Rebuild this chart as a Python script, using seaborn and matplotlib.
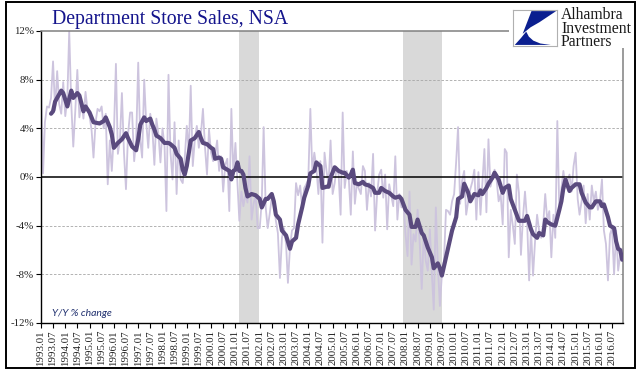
import matplotlib
matplotlib.use("Agg")
import matplotlib.pyplot as plt
from matplotlib.patches import Rectangle, Polygon
import seaborn as sns
import pandas as pd

# ---------------- data ----------------
start_month = "1993-01-01"
light_1993_2016 = [
    8.2, 0.3, 4.5, 5.8, 5.7, 6.5, 9.5, 5.5, 8.7, 6.0, 5.2, 7.8,          # 1993
    5.0, 6.5, 12.0, 6.0, 2.5, 5.5, 8.8, 4.9, 6.2, 4.8, 7.0, 5.5,         # 1994
    5.0, 3.8, 1.6, 4.5, 5.6, 5.4, 5.8, 4.0, 5.2, -0.6, 3.0, 0.5,         # 1995
    3.5, 9.3, 1.9, 3.0, 6.9, 2.0, -1.0, 3.5, 5.3, 5.3, 1.3, 3.0,         # 1996
    9.4, 3.0, 1.6, 8.0, 4.5, 2.4, 5.2, 4.0, 1.0, 4.8, 3.5, 1.2,          # 1997
    4.0, 2.5, -2.8, 8.4, 2.0, -0.2, 4.5, -1.4, 3.0, -0.2, -0.5, 1.5,     # 1998
    4.2, 2.0, 7.5, 0.9, 3.0, 4.2, 2.4, 3.5, 5.6, 2.5, 0.2, 3.9,          # 1999
    2.0, 1.3, 1.7, 3.0, 0.5, 1.7, -1.2, 1.0, 1.5, -2.8, 5.6, 0.2,        # 2000
    2.8, -0.6, -3.6, -1.2, -2.4, -1.4, -2.1, 1.7, -3.5, -2.2, -1.5, -4.2,  # 2001
    -4.2, -2.0, 4.1, -2.5, -4.2, -3.0, -1.7, -2.0, -3.6, -4.6, -8.3, -5.0,  # 2002
    -4.2, -5.5, -8.7, -5.8, -4.4, -4.2, -0.5, -1.5, -0.7, -2.5, -0.9, -0.6,  # 2003
    -0.2, 5.6, 0.5, 2.0, 0.8, -1.4, 1.3, -5.4, 2.0, 0.5, -0.6, 3.0,      # 2004
    -1.4, -0.5, 0.8, 0.2, -3.1, 5.3, -0.9, 0.5, -0.2, -3.1, 2.1, -2.2,   # 2005
    -0.5, -1.0, -1.4, 0.9, 0.5, -2.7, -0.5, -1.6, 1.9, -4.4, -1.4, 0.2,  # 2006
    0.6, -1.7, 0.2, -4.3, -0.6, -1.5, -2.4, 1.7, -3.5, -1.4, -2.5, -2.0,  # 2007
    -4.7, -6.5, -1.2, -7.2, -4.7, -5.3, -2.7, -5.3, -9.2, -4.7, -6.9, -7.7,  # 2008
    -4.3, -8.0, -10.9, -2.5, -7.2, -10.6, -8.0, -6.9, -2.7, -2.8, -3.1, -2.0,  # 2009
    -1.4, 1.3, 4.1, -2.2, -0.3, 0.5, -3.1, -2.0, -1.0, -0.4, 0.6, -3.5,  # 2010
    0.4, -3.1, -0.5, 2.3, -2.9, 3.1, -0.8, -0.05, 0.6, -0.2, -2.0, -1.4,  # 2011
    -3.9, 2.3, 2.0, -6.6, -2.7, -4.0, -5.5, 0.2, -1.3, -6.4, -3.3, -1.2,  # 2012
    -3.5, -8.5, -4.2, -8.1, -5.3, -3.1, -4.4, -5.0, -3.9, -1.4, -3.6, -2.8,  # 2013
    -6.6, -3.1, -5.0, 4.6, -2.8, -1.0, 0.5, -0.9, -0.3, 0.2, -1.2, 0.9,  # 2014
    2.0, -1.8, -3.1, -2.0, -0.7, -3.8, -1.4, -3.5, -0.7, -2.0, -1.2, -2.7,  # 2015
    -2.0, -0.2, -4.4, -5.5, -8.5, -4.7, -4.2, -8.0, -4.4, -7.7, -6.4, -6.6,  # 2016
]

dark_dates = [
    "1993.06", "1993.07", "1993.08", "1993.10", "1993.11", "1993.12",
    "1994.02", "1994.04", "1994.05", "1994.07", "1994.08", "1994.10", "1994.11",
    "1995.01", "1995.03", "1995.06", "1995.08", "1995.09", "1995.11", "1995.12",
    "1996.01", "1996.03", "1996.05", "1996.07", "1996.08", "1996.10", "1996.12",
    "1997.01", "1997.02", "1997.04", "1997.05", "1997.07", "1997.08", "1997.09", "1997.10", "1997.12",
    "1998.02", "1998.04", "1998.05", "1998.07", "1998.08", "1998.10", "1998.11", "1998.12",
    "1999.01", "1999.03", "1999.05", "1999.07", "1999.08", "1999.09", "1999.11",
    "2000.01", "2000.02", "2000.03", "2000.05", "2000.06", "2000.07", "2000.09", "2000.10", "2000.11", "2000.12",
    "2001.01", "2001.02", "2001.03", "2001.04", "2001.05", "2001.06", "2001.07", "2001.09", "2001.11",
    "2002.01", "2002.02", "2002.04", "2002.05", "2002.07", "2002.08", "2002.09", "2002.11", "2002.12",
    "2003.02", "2003.03", "2003.04", "2003.05", "2003.07", "2003.08", "2003.10", "2003.11",
    "2004.01", "2004.02", "2004.04", "2004.05", "2004.07", "2004.08", "2004.10", "2004.11", "2004.12",
    "2005.02", "2005.04", "2005.06", "2005.07", "2005.09", "2005.10", "2005.11", "2005.12",
    "2006.02", "2006.04", "2006.05", "2006.07", "2006.09", "2006.10", "2006.12",
    "2007.01", "2007.03", "2007.05", "2007.07", "2007.08", "2007.10", "2007.11",
    "2008.01", "2008.03", "2008.04", "2008.06", "2008.07", "2008.09", "2008.10", "2008.12",
    "2009.02", "2009.03", "2009.05", "2009.06", "2009.07", "2009.09", "2009.10", "2009.12",
    "2010.02", "2010.03", "2010.05", "2010.06", "2010.08", "2010.09", "2010.11",
    "2011.01", "2011.02", "2011.03", "2011.05", "2011.06", "2011.08", "2011.09", "2011.11",
    "2012.01", "2012.02", "2012.04", "2012.05", "2012.07", "2012.09", "2012.10", "2012.12",
    "2013.01", "2013.03", "2013.04", "2013.06", "2013.07", "2013.09", "2013.10", "2013.11",
    "2014.01", "2014.03", "2014.05", "2014.06", "2014.07", "2014.08", "2014.10", "2014.11",
    "2015.01", "2015.03", "2015.04", "2015.06", "2015.08", "2015.09", "2015.11",
    "2016.01", "2016.02", "2016.03", "2016.05", "2016.06", "2016.08", "2016.09", "2016.10", "2016.11", "2016.12",
]
dark_vals = [
    5.2, 5.4, 6.2, 6.8, 7.1, 6.9,
    5.8, 7.1, 6.5, 6.9, 6.7, 5.4, 5.8,
    5.3, 4.5, 4.4, 4.6, 4.9, 4.1, 3.5,
    2.4, 2.8, 3.1, 3.6, 3.2, 2.5, 2.2,
    3.1, 4.3, 4.9, 4.6, 4.8, 4.3, 3.9, 3.4, 3.2,
    2.8, 2.8, 2.7, 2.4, 1.9, 1.5, 0.6, 0.2,
    0.9, 3.0, 3.2, 3.7, 3.2, 2.8, 2.7,
    2.4, 2.3, 1.5, 1.6, 1.5, 0.8, 0.6, 0.5, -0.2, 0.5,
    0.6, 1.2, 0.5, 0.5, 0.2, -0.9, -1.6, -1.4, -1.5,
    -1.8, -2.5, -1.8, -1.8, -1.4, -2.0, -3.1, -3.5, -4.4,
    -4.8, -5.3, -5.9, -5.3, -5.0, -3.9, -2.5, -1.7,
    -0.7, 0.3, 0.5, 1.2, 0.9, -0.9, -0.8, -0.8, -0.05,
    0.8, 0.5, 0.35, 0.35, -0.05, 0.2, 0.6, -0.5,
    -0.6, -0.4, -0.6, -0.7, -0.9, -1.3, -1.3,
    -0.9, -1.15, -1.3, -1.6, -1.7, -1.6, -1.8,
    -2.7, -3.1, -4.1, -4.1, -3.5, -4.6, -4.8, -5.8,
    -6.6, -7.5, -7.1, -7.5, -8.1, -6.6, -5.9, -4.4,
    -3.3, -1.8, -1.6, -0.55, -1.3, -2.0, -1.4,
    -1.5, -1.1, -1.4, -0.9, -0.55, -0.05, 0.35, -0.2,
    -1.3, -0.9, -0.7, -1.8, -2.7, -3.6, -3.6, -3.6,
    -3.2, -4.3, -4.7, -5.0, -4.6, -4.8, -3.5, -3.7,
    -3.9, -4.0, -2.7, -2.0, -0.9, -0.2, -1.15, -0.9,
    -0.6, -0.6, -1.3, -2.1, -2.5, -2.5, -2.0,
    -2.0, -2.4, -2.25, -3.3, -4.0, -4.2, -5.3, -5.9, -6.0, -6.8,
]

recessions = [("2001-03-01", "2001-12-15"), ("2007-12-01", "2009-07-01")]
y_ticks = [12, 8, 4, 0, -4, -8, -12]
y_tick_labels = ["12%", "8%", "4%", "0%", "-4%", "-8%", "-12%"]
x_tick_labels = [f"{y}.{m:02d}" for y in range(1993, 2017) for m in (1, 7)]

title = "Department Store Sales, NSA"
logo_lines = ["Alhambra", "Investment", "Partners"]
note = "Y/Y % change"

# ---------------- frames ----------------
months = pd.date_range(start_month, periods=len(light_1993_2016), freq="MS")
light_df = pd.DataFrame({"date": months, "yoy": light_1993_2016})
dark_df = pd.DataFrame({"date": pd.to_datetime(dark_dates, format="%Y.%m"),
                        "yoy": dark_vals})
x_ticks = pd.to_datetime(x_tick_labels, format="%Y.%m")

# ---------------- style ----------------
sns.set_theme(style="white")
plt.rcParams["font.family"] = ["Liberation Serif", "DejaVu Serif"]

W, H = 641, 375
fig = plt.figure(figsize=(W / 100, H / 100), dpi=100)
fig.patch.set_facecolor("white")

L, R, T, B = 41, 623, 31, 323
ax = fig.add_axes([L / W, 1 - B / H, (R - L) / W, (B - T) / H])
ax.set_facecolor("white")

for a, b in recessions:
    ax.axvspan(pd.Timestamp(a), pd.Timestamp(b), color="#d9d9d9", lw=0, zorder=0)

for g in (8, 4, -4, -8):
    ax.axhline(g, color="#a6a6a6", lw=0.6, ls=(0, (3, 2)), zorder=1)

sns.lineplot(data=light_df, x="date", y="yoy", ax=ax, color="#cdc4de",
             linewidth=1.3, zorder=2)
ax.axhline(0, color="black", lw=1.1, zorder=2.5)
sns.lineplot(data=dark_df, x="date", y="yoy", ax=ax, color="#5a4a7e",
             linewidth=3.0, zorder=3)

ax.set_xlim(pd.Timestamp("1993-01-01"), pd.Timestamp("2016-12-13"))
ax.set_ylim(-12, 12)
ax.set_xlabel("")
ax.set_ylabel("")

ax.set_yticks(y_ticks)
ax.set_yticklabels(y_tick_labels, fontsize=7.8, color="#222222")
ax.set_xticks(x_ticks)
ax.set_xticklabels(x_tick_labels, rotation=90, fontsize=7.8, color="#222222")
ax.tick_params(axis="both", which="major", direction="out", length=3.5,
               width=0.8, color="black", pad=1.5, left=True, bottom=True)

for side in ("left", "bottom"):
    ax.spines[side].set_color("black")
    ax.spines[side].set_linewidth(1.0)
for side in ("top", "right"):
    ax.spines[side].set_color("#808080")
    ax.spines[side].set_linewidth(1.1)

# title
fig.text(52 / W, 1 - 24 / H, title, fontsize=14.2, color="#14148c",
         ha="left", va="baseline")

# note
fig.text(52 / W, 1 - 316 / H, note, fontsize=7.5, color="#1f2f6e",
         style="italic", family=["Lato", "DejaVu Sans"], ha="left",
         va="baseline")

# logo area (white cover over spines)
fig.patches.append(Rectangle((509 / W, 1 - 48 / H), (636 - 509) / W, 44 / H,
                             transform=fig.transFigure, facecolor="white",
                             edgecolor="none", zorder=5))
lax = fig.add_axes([513 / W, 1 - 46 / H, 44 / W, 36 / H], zorder=6)
lax.set_xlim(0, 1)
lax.set_ylim(0, 1)
lax.set_xticks([])
lax.set_yticks([])
for s in lax.spines.values():
    s.set_color("#b0b0b0")
    s.set_linewidth(0.8)
blue = "#0b1f8f"
lax.add_patch(Polygon([(0.42, 0.97), (0.98, 0.97), (0.60, 0.66), (0.40, 0.52),
                       (0.22, 0.34)], closed=True, color=blue, lw=0))
lax.add_patch(Polygon([(0.04, 0.03), (0.86, 0.03), (0.62, 0.07), (0.46, 0.15),
                       (0.36, 0.26), (0.30, 0.40), (0.18, 0.22)],
                      closed=True, color=blue, lw=0))
fig.text(561 / W, 1 - 7 / H, "\n".join(logo_lines), fontsize=11.3,
         color="#1a1a1a", ha="left", va="top", linespacing=0.8, zorder=7)

# outer border
fig.patches.append(Rectangle((6 / W, 1 - 368 / H), (635 - 6) / W, 366 / H,
                             transform=fig.transFigure, fill=False,
                             edgecolor="black", linewidth=1.4, zorder=8))

fig.savefig("out.png", dpi=100, facecolor="white")
